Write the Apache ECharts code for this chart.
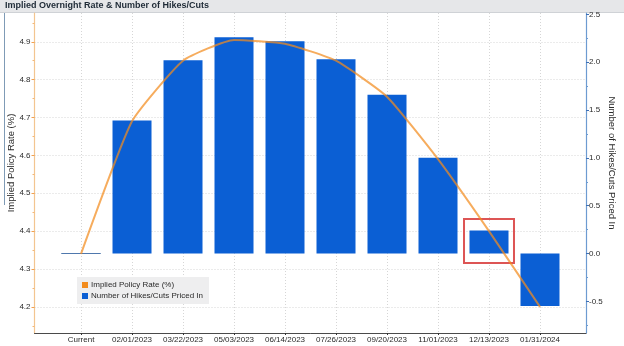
<!DOCTYPE html>
<html>
<head>
<meta charset="utf-8">
<script src="https://cdn.jsdelivr.net/npm/echarts@6/dist/echarts.min.js"></script>
<style>
  html, body { margin: 0; padding: 0; background: #ffffff; }
  #chart { width: 624px; height: 346px; }
</style>
</head>
<body>
<div id="chart"></div>
<script>
// Meeting dates on the horizontal axis
const categories = ['Current', '02/01/2023', '03/22/2023', '05/03/2023', '06/14/2023',
  '07/26/2023', '09/20/2023', '11/01/2023', '12/13/2023', '01/31/2024'];
// Implied policy rate (%), left axis
const impliedRate = [4.34, 4.69, 4.85, 4.905, 4.895, 4.85, 4.755, 4.59, 4.40, 4.20];
// Number of hikes/cuts priced in, right axis
const hikesCuts = [0, 1.39, 2.02, 2.26, 2.22, 2.03, 1.66, 1.00, 0.24, -0.55];
// Tick labels
const leftTicks = [4.2, 4.3, 4.4, 4.5, 4.6, 4.7, 4.8, 4.9];
const leftMinorTicks = [4.15, 4.25, 4.35, 4.45, 4.55, 4.65, 4.75, 4.85, 4.95];
const rightTicks = [-0.5, 0.0, 0.5, 1.0, 1.5, 2.0, 2.5];
const rightMinorTicks = [-0.75, -0.25, 0.25, 0.75, 1.25, 1.75, 2.25];
// Axis titles
const leftAxisTitle = 'Implied Policy Rate (%)';
const rightAxisTitle = 'Number of Hikes/Cuts Priced In';
// Meeting highlighted with a box
const highlightIndex = 8;

const catIdx = categories.map((_, i) => i);
const FONT = '"Liberation Sans", Arial, sans-serif';
const ORANGE = '#f28c1e';
const BLUE = '#0b5fd4';

const chart = echarts.init(document.getElementById('chart'), null, { renderer: 'canvas' });

const gridLine = { show: true, lineStyle: { color: '#d6d6d6', type: [1, 2], width: 1 } };
const axisTitleStyle = { fontSize: 9.5, fontFamily: FONT, fill: '#2a2a2a', align: 'center', verticalAlign: 'middle' };

chart.setOption({
  animation: false,
  backgroundColor: '#ffffff',
  textStyle: { fontFamily: FONT },
  title: {
    text: 'Implied Overnight Rate & Number of Hikes/Cuts',
    left: 3, top: 0, padding: [1, 2],
    textStyle: { fontSize: 9, fontWeight: 'bold', color: '#1e2a36', fontFamily: FONT }
  },
  graphic: [
    { type: 'rect', z: -10, shape: { x: 0, y: 0, width: 624, height: 12 }, style: { fill: '#e6e7e9' } },
    { type: 'line', z: -9, shape: { x1: 0, y1: 12.5, x2: 624, y2: 12.5 }, style: { stroke: '#cfd2d6', lineWidth: 1 } },
    { type: 'line', z: -9, shape: { x1: 4.5, y1: 13, x2: 4.5, y2: 205 }, style: { stroke: '#7f9bb6', lineWidth: 1 } },
    { type: 'text', x: 11, y: 163, rotation: Math.PI / 2, style: Object.assign({ text: leftAxisTitle }, axisTitleStyle) },
    { type: 'text', x: 612, y: 163, rotation: -Math.PI / 2, style: Object.assign({ text: rightAxisTitle }, axisTitleStyle) }
  ],
  legend: {
    orient: 'vertical',
    left: 77, top: 277,
    padding: [4, 6, 4, 5],
    itemGap: 3,
    itemWidth: 6, itemHeight: 6,
    backgroundColor: '#eeeeef',
    textStyle: { fontSize: 8, color: '#2a2a2a', fontFamily: FONT, padding: [0, 0, 0, -2] },
    data: [
      { name: 'Implied Policy Rate (%)', icon: 'rect', itemStyle: { color: ORANGE, opacity: 1 } },
      { name: 'Number of Hikes/Cuts Priced In', icon: 'rect', itemStyle: { color: BLUE } }
    ]
  },
  grid: { left: 34.5, right: 38, top: 13, bottom: 13, containLabel: false, outerBoundsMode: 'none' },
  xAxis: {
    type: 'value',
    min: -0.912, max: 9.902,
    axisLine: { show: true, onZero: false, lineStyle: { color: '#4a4a4a', width: 1 } },
    axisTick: { show: true, customValues: catIdx, length: 2, lineStyle: { color: '#333' } },
    axisLabel: {
      customValues: catIdx,
      formatter: v => categories[Math.round(v)],
      fontSize: 8, color: '#2a2a2a', margin: 3, fontFamily: FONT
    },
    splitLine: gridLine
  },
  yAxis: [
    {
      type: 'value', position: 'left',
      min: 4.131, max: 4.976,
      axisLine: { show: true, onZero: false, lineStyle: { color: '#f3c590', width: 1.2 } },
      axisTick: { show: true, customValues: leftTicks, length: 3, lineStyle: { color: '#f0a050' } },
      axisLabel: { customValues: leftTicks, formatter: v => v.toFixed(1), fontSize: 8, color: '#2a2a2a', margin: 4, fontFamily: FONT },
      splitLine: gridLine
    },
    {
      type: 'value', position: 'right',
      min: -0.831, max: 2.514,
      axisLine: { show: true, onZero: false, lineStyle: { color: '#6d9bd1', width: 1.2 } },
      axisTick: { show: true, customValues: rightTicks, length: 3, lineStyle: { color: '#3d6fb5' } },
      axisLabel: { customValues: rightTicks, formatter: v => v.toFixed(1), fontSize: 8, color: '#2a2a2a', margin: 3, fontFamily: FONT },
      splitLine: { show: false }
    },
    {
      // minor ticks, left side
      type: 'value', position: 'left', offset: 0, min: 4.131, max: 4.976,
      axisLine: { show: false, onZero: false },
      axisTick: { show: true, customValues: leftMinorTicks, length: 2, lineStyle: { color: '#f3b878' } },
      axisLabel: { show: false }, splitLine: { show: false }
    },
    {
      // minor ticks, right side
      type: 'value', position: 'right', offset: 0, min: -0.831, max: 2.514,
      axisLine: { show: false, onZero: false },
      axisTick: { show: true, customValues: rightMinorTicks, length: 2, lineStyle: { color: '#6d9bd1' } },
      axisLabel: { show: false }, splitLine: { show: false }
    }
  ],
  series: [
    {
      name: 'Number of Hikes/Cuts Priced In',
      type: 'bar',
      yAxisIndex: 1,
      barWidth: 39,
      itemStyle: { color: BLUE },
      data: hikesCuts.map((v, i) => v === 0
        ? { value: [i, v], itemStyle: { borderColor: '#4f78ad', borderWidth: 1 } }
        : { value: [i, v] }),
      markArea: {
        silent: true,
        itemStyle: { color: 'rgba(0,0,0,0)', borderColor: '#dd5555', borderWidth: 2 },
        data: [[
          { coord: [highlightIndex - 0.49, hikesCuts[highlightIndex] + 0.12] },
          { coord: [highlightIndex + 0.49, -0.1] }
        ]]
      },
      z: 2
    },
    {
      name: 'Implied Policy Rate (%)',
      type: 'line',
      yAxisIndex: 0,
      symbol: 'none',
      smooth: 0.15,
      itemStyle: { color: ORANGE },
      lineStyle: { color: ORANGE, width: 2, opacity: 0.72 },
      data: impliedRate.map((v, i) => [i, v]),
      z: 3
    }
  ]
});
</script>
</body>
</html>
